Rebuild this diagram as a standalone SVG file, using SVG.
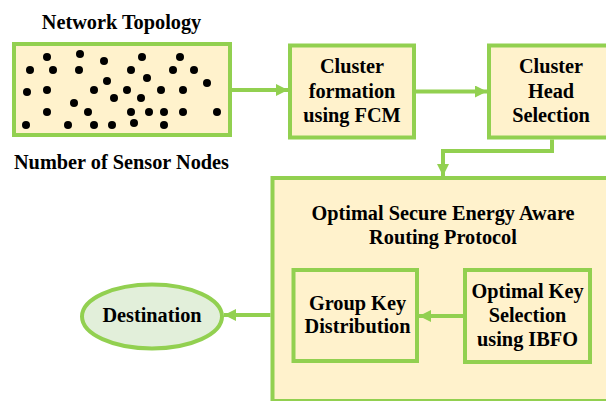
<svg xmlns="http://www.w3.org/2000/svg" width="606" height="401" viewBox="0 0 606 401">
<style>
.box{fill:#FFF2CC;stroke:#92D050;stroke-width:4}
.ell{fill:#E2EFDA;stroke:#92D050;stroke-width:4}
.t{font-family:"Liberation Serif","Times New Roman",serif;font-weight:bold;font-size:20.3px;fill:#000;text-anchor:middle}
.c{fill:none;stroke:#92D050;stroke-width:4}
.d{fill:#000}
</style>
<defs>
<marker id="ah" viewBox="0 0 12 12" refX="12" refY="6" markerWidth="12" markerHeight="12" markerUnits="userSpaceOnUse" orient="auto">
<path d="M0,0 L12,6 L0,12 Z" fill="#92D050"/>
</marker>
</defs>
<rect width="606" height="401" fill="#fff"/>
<g id="topology">
<text class="t" x="121.5" y="29">Network Topology</text>
<rect class="box" x="14" y="44" width="216" height="91"/>
<g class="d">
<circle cx="47" cy="57" r="4"/><circle cx="80" cy="54" r="4"/><circle cx="104" cy="61" r="4"/><circle cx="142" cy="57" r="4"/><circle cx="180" cy="57" r="4"/>
<circle cx="30" cy="70" r="4"/><circle cx="53" cy="70" r="4"/><circle cx="79" cy="70" r="4"/><circle cx="131" cy="70" r="4"/><circle cx="173" cy="70" r="4"/><circle cx="194" cy="70" r="4"/>
<circle cx="107" cy="81" r="4"/><circle cx="147" cy="78" r="4"/><circle cx="207" cy="83" r="4"/>
<circle cx="27" cy="92" r="4"/><circle cx="47" cy="90" r="4"/><circle cx="94" cy="90" r="4"/><circle cx="127" cy="90" r="4"/><circle cx="161" cy="90" r="4"/><circle cx="183" cy="90" r="4"/>
<circle cx="114" cy="98" r="4"/><circle cx="141" cy="98" r="4"/><circle cx="74" cy="103" r="4"/>
<circle cx="47" cy="112" r="4"/><circle cx="88" cy="112" r="4"/><circle cx="131" cy="112" r="4"/><circle cx="149" cy="112" r="4"/><circle cx="164" cy="112" r="4"/><circle cx="183" cy="112" r="4"/><circle cx="217" cy="112" r="4"/>
<circle cx="26" cy="125" r="4"/><circle cx="68" cy="125" r="4"/><circle cx="94" cy="125" r="4"/><circle cx="112" cy="125" r="4"/><circle cx="134" cy="123" r="4"/><circle cx="164" cy="125" r="4"/>
</g>
<text class="t" x="121.5" y="169">Number of Sensor Nodes</text>
</g>
<g id="cluster-formation">
<rect class="box" x="290" y="45.5" width="124" height="92"/>
<text class="t" x="352" y="73">Cluster</text>
<text class="t" x="352" y="98">formation</text>
<text class="t" x="352" y="122">using FCM</text>
</g>
<g id="cluster-head">
<rect class="box" x="489" y="45.5" width="130" height="92"/>
<text class="t" x="551" y="73">Cluster</text>
<text class="t" x="551" y="98">Head</text>
<text class="t" x="551" y="122">Selection</text>
</g>
<g id="routing-protocol">
<rect class="box" x="272.5" y="178" width="345" height="223"/>
<text class="t" x="443" y="220">Optimal Secure Energy Aware</text>
<text class="t" x="443" y="244">Routing Protocol</text>
</g>
<g id="group-key">
<rect class="box" x="293.5" y="270" width="123.5" height="91"/>
<text class="t" x="357.5" y="310">Group Key</text>
<text class="t" x="357.5" y="333">Distribution</text>
</g>
<g id="optimal-key">
<rect class="box" x="465" y="270" width="125" height="92"/>
<text class="t" x="527.5" y="298">Optimal Key</text>
<text class="t" x="527.5" y="322">Selection</text>
<text class="t" x="527.5" y="346">using IBFO</text>
</g>
<g id="destination">
<ellipse class="ell" cx="152" cy="316.5" rx="70" ry="32"/>
<text class="t" x="152" y="322">Destination</text>
</g>
<g id="connectors">
<path class="c" d="M232,90 L288,90" marker-end="url(#ah)"/>
<path class="c" d="M416,91.5 L487,91.5" marker-end="url(#ah)"/>
<path class="c" d="M552,139.5 L552,151 L443,151 L443,176" marker-end="url(#ah)"/>
<path class="c" d="M270.5,315 L224,315" marker-end="url(#ah)"/>
<path class="c" d="M463,316 L419,316" marker-end="url(#ah)"/>
</g>
</svg>
